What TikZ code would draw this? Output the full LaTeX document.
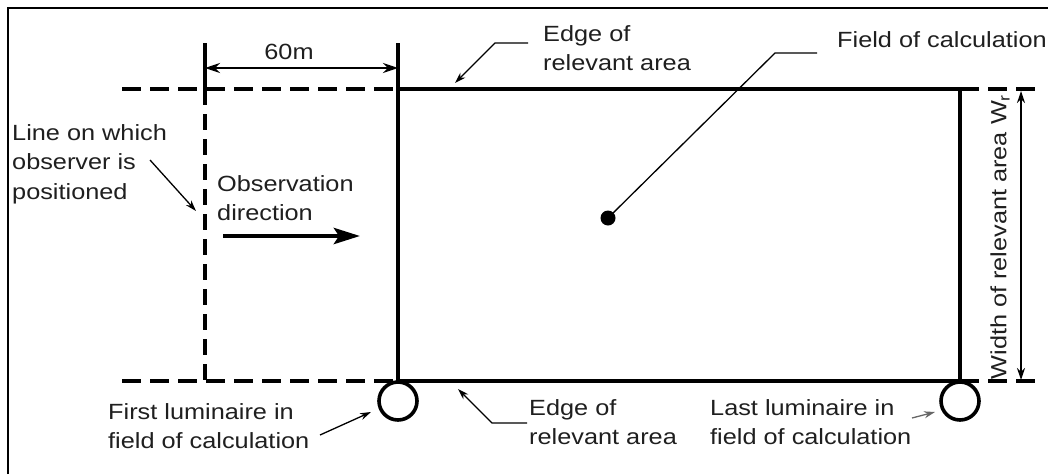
\documentclass[tikz,border=0pt]{standalone}
\usepackage{fontspec}
\setmainfont[FakeStretch=1.15]{Liberation Sans}
\usetikzlibrary{arrows.meta}
\begin{document}
\begin{tikzpicture}[x=1pt,y=-1pt,
  lbl/.style={font=\fontsize{22}{29.5}\selectfont, inner sep=0pt, align=left, anchor=west, text=black!88},
  dashedline/.style={line width=3.4pt, dash pattern=on 19pt off 9pt},
  vdashedline/.style={line width=3.4pt, dash pattern=on 16pt off 9pt},
  solidline/.style={line width=3.2pt},
  leader/.style={line width=1.3pt, -{Stealth[length=11pt,width=7pt]}},
  plainleader/.style={line width=1.3pt},
  dimarrow/.style={line width=2.4pt, {Stealth[length=15pt,width=10pt]}-{Stealth[length=15pt,width=10pt]}},
  widtharrow/.style={line width=1.4pt, {Stealth[length=12pt,width=8pt]}-{Stealth[length=12pt,width=8pt]}},
  bigarrow/.style={line width=4.5pt, -{Stealth[length=26pt,width=16pt,inset=5pt]}},
  lum/.style={circle, draw, line width=3.6pt, minimum size=38pt, inner sep=0pt},
  dotstyle/.style={circle, fill, minimum size=15pt, inner sep=0pt}]
\useasboundingbox (0,0) rectangle (1048,474);
% frame
\coordinate (fBL) at (8,474);
\coordinate (fTL) at (8,8);
\coordinate (fTR) at (1048,8);
\draw[line width=2.2pt] (fBL) -- (fTL) -- (fTR);
% main geometry
\coordinate (TL) at (398,89);
\coordinate (TR) at (960,89);
\coordinate (BR) at (960,381);
\coordinate (BL) at (398,381);
\coordinate (refTop) at (398,43);
\coordinate (topDashL) at (122,89);
\coordinate (botDashL) at (122,381);
\coordinate (topDashR) at (1036,89);
\coordinate (botDashR) at (1036,381);
\coordinate (obsTop) at (205,43);
\coordinate (obsMid) at (205,89);
\coordinate (obsBot) at (205,381);
\draw[dashedline] (topDashL) -- (TL);
\draw[dashedline] (botDashL) -- (BL);
\draw[dashedline] (TR) -- (topDashR);
\draw[dashedline] (BR) -- (botDashR);
\draw[solidline] (refTop) -- (BL) -- (BR) -- (TR) -- (TL);
\draw[solidline] (obsTop) -- (obsMid);
\draw[vdashedline] (obsMid) -- (obsBot);
% 60m dimension
\coordinate (d1) at (205,68);
\coordinate (d2) at (398,68);
\draw[dimarrow] (d1) -- (d2);
\node[lbl, anchor=center] (sixty) at (289,52) {60m};
% luminaires
\node[lum] (lum1) at (398,401) {};
\node[lum] (lum2) at (960,401) {};
% field of calculation dot
\node[dotstyle] (dot) at (608,218) {};
\coordinate (fcElbow) at (775,53);
\coordinate (fcEnd) at (817,53);
\draw[plainleader] (dot.center) -- (fcElbow) -- (fcEnd);
\node[lbl] (field) at (837,40) {Field of calculation};
% observer line label
\node[lbl] (obsline) at (12,164) {Line on which\\observer is\\positioned};
\coordinate (olA) at (150,160);
\coordinate (olB) at (196,211);
\draw[leader] (olA) -- (olB);
% observation direction
\node[lbl] (obsdir) at (217,198) {Observation\\direction};
\coordinate (oa1) at (223,236);
\coordinate (oa2) at (360,236);
\draw[bigarrow] (oa1) -- (oa2);
% edge of relevant area (top)
\node[lbl] (edgeTop) at (543,48) {Edge of\\relevant area};
\coordinate (etA) at (528,43);
\coordinate (etB) at (495,43);
\coordinate (etC) at (455,83);
\draw[leader] (etA) -- (etB) -- (etC);
% edge of relevant area (bottom)
\node[lbl] (edgeBot) at (529,422) {Edge of\\relevant area};
\coordinate (ebA) at (527,423);
\coordinate (ebB) at (492,423);
\coordinate (ebC) at (458,389);
\draw[leader] (ebA) -- (ebB) -- (ebC);
% first luminaire
\node[lbl] (first) at (108,426) {First luminaire in\\field of calculation};
\coordinate (flA) at (320,435);
\coordinate (flB) at (371,412);
\draw[leader] (flA) -- (flB);
% last luminaire
\node[lbl] (last) at (710,422) {Last luminaire in\\field of calculation};
\coordinate (llA) at (912,418);
\coordinate (llB) at (935,412);
\draw[leader, draw=black!60] (llA) -- (llB);
% width of relevant area
\coordinate (w1) at (1021,91);
\coordinate (w2) at (1021,380);
\draw[widtharrow] (w1) -- (w2);
\node[lbl, anchor=center, rotate=90] (width) at (1000,237) {Width of relevant area W\textsubscript{r}};
\end{tikzpicture}
\end{document}
